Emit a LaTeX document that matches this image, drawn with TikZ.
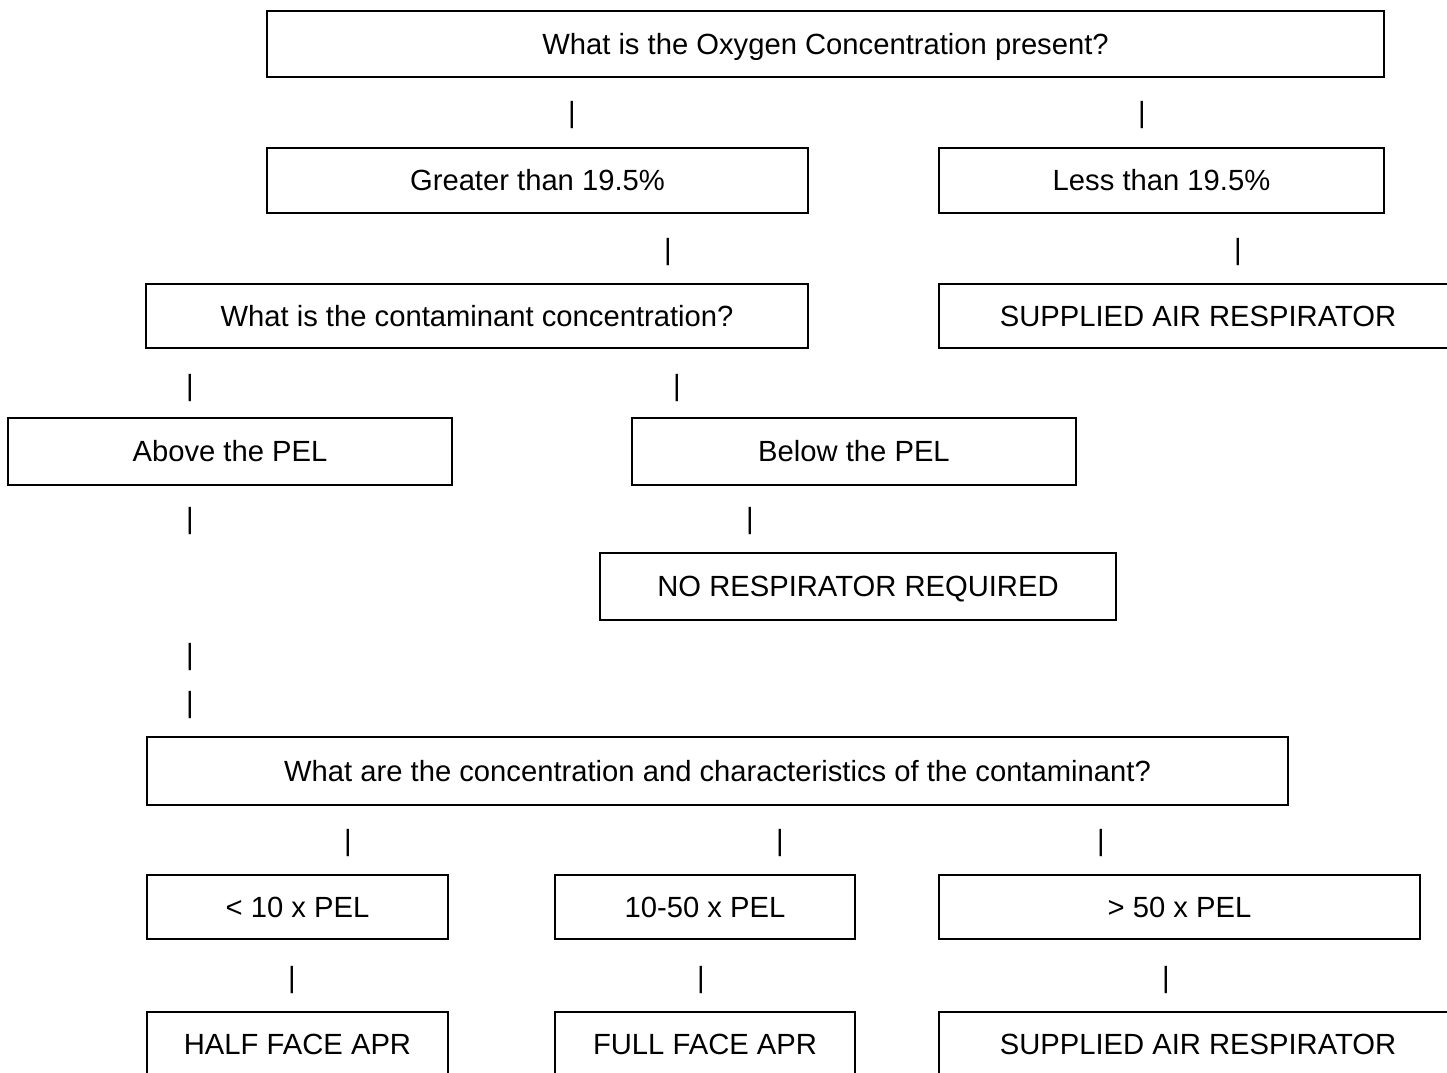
\documentclass[tikz,border=0pt]{standalone}
\usepackage{fontspec}
\setmainfont{Liberation Sans}
\usetikzlibrary{positioning}
\newcommand{\flowfont}{\fontsize{14.6}{17}\selectfont}

\begin{document}
\begin{tikzpicture}[
  x=0.5pt, y=-0.5pt,
  qbox/.style={draw=black, line width=1pt, fill=white, inner sep=0pt,
               minimum height=32.5pt, text height=10.45pt, text depth=0pt,
               font=\flowfont},
  bar/.style={inner sep=0pt, font=\flowfont}
]
  \useasboundingbox (0,0) rectangle (1447,1072);
  \clip (0,0) rectangle (1447,1072);

  % oxygen level
  \node[qbox, minimum width=558.5pt, minimum height=33pt]
    (oxq) at (825.5,44) {What is the Oxygen Concentration present?};
  \node[bar] (b1a) at (572,115) {|};
  \node[bar] (b1b) at (1142,115) {|};

  \node[qbox, minimum width=270.5pt] (gt) at (537.5,180.5) {Greater than 19.5\%};
  \node[qbox, minimum width=222.5pt] (lt) at (1161.5,180.5) {Less than 19.5\%};
  \node[bar] (b2a) at (668,252) {|};
  \node[bar] (b2b) at (1238,252) {|};

  % contaminant level
  \node[qbox, minimum width=331pt, minimum height=32pt]
    (conq) at (477,316) {What is the contaminant concentration?};
  \node[qbox, minimum width=259pt, minimum height=32pt]
    (sar1) at (1198,316) {SUPPLIED AIR RESPIRATOR};
  \node[bar] (b3a) at (190,388) {|};
  \node[bar] (b3b) at (677,388) {|};

  \node[qbox, minimum width=222pt, minimum height=33.5pt]
    (above) at (230,451.5) {Above the PEL};
  \node[qbox, minimum width=222pt, minimum height=33.5pt]
    (below) at (854,451.5) {Below the PEL};
  \node[bar] (b4a) at (190,521) {|};
  \node[bar] (b4b) at (750,521) {|};

  \node[qbox, minimum width=258pt, minimum height=33.5pt]
    (nores) at (858,586.5) {NO RESPIRATOR REQUIRED};
  \node[bar] (b5a) at (190,657) {|};
  \node[bar] (b5b) at (190,705) {|};

  % characteristics
  \node[qbox, minimum width=570.5pt, minimum height=34pt]
    (charq) at (717.5,771) {What are the concentration and characteristics of the contaminant?};
  \node[bar] (b6a) at (348,843) {|};
  \node[bar] (b6b) at (780,843) {|};
  \node[bar] (b6c) at (1101,843) {|};

  \node[qbox, minimum width=150.5pt, minimum height=32pt] (lo) at (297.5,907) {< 10 x PEL};
  \node[qbox, minimum width=150pt, minimum height=32pt] (mid) at (705,907) {10-50 x PEL};
  \node[qbox, minimum width=240.5pt, minimum height=32pt] (hi) at (1179.5,907) {> 50 x PEL};
  \node[bar] (b7a) at (292,980) {|};
  \node[bar] (b7b) at (701,980) {|};
  \node[bar] (b7c) at (1166,980) {|};

  \node[qbox, minimum width=150.5pt, minimum height=32pt] (half) at (297.5,1044) {HALF FACE APR};
  \node[qbox, minimum width=150pt, minimum height=32pt] (full) at (705,1044) {FULL FACE APR};
  \node[qbox, minimum width=259pt, minimum height=32pt] (sar2) at (1198,1044) {SUPPLIED AIR RESPIRATOR};

\end{tikzpicture}
\end{document}
